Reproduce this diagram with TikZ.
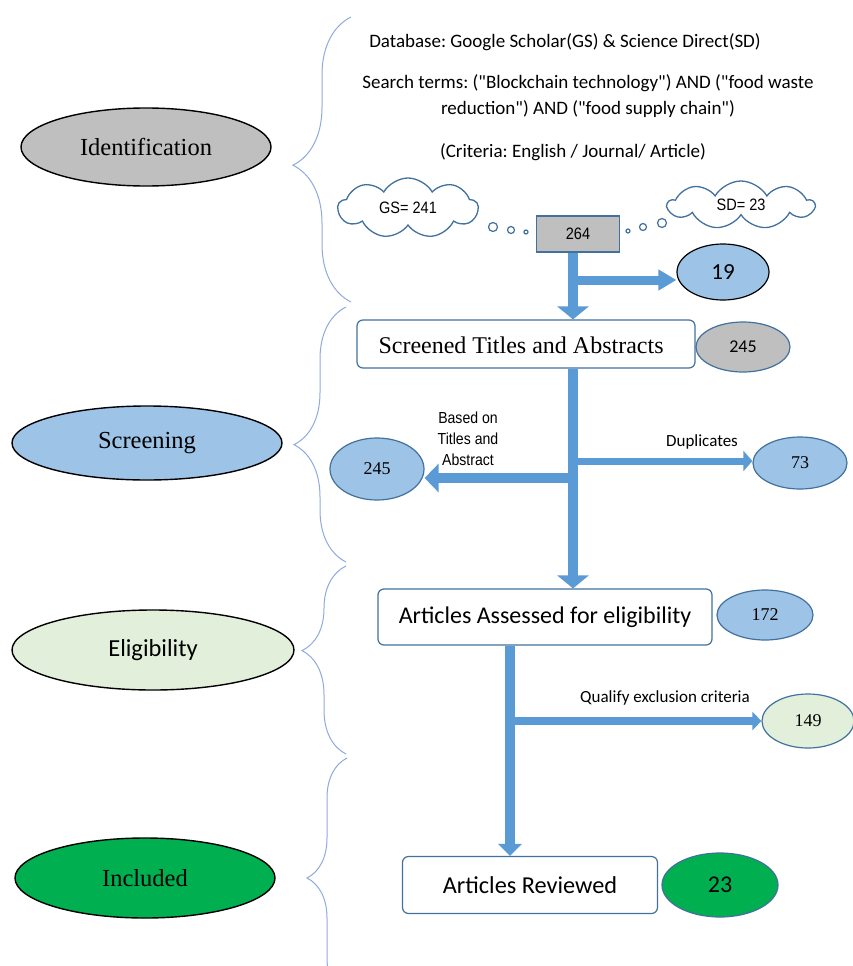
\documentclass[tikz,border=0pt]{standalone}
\usepackage{fontspec}
\setmainfont{Liberation Serif}
\newfontfamily\calibri{Carlito}
\newfontfamily\arialn[FakeStretch=0.88]{Liberation Sans}
\usetikzlibrary{shapes.geometric,shapes.symbols,arrows.meta,decorations.pathreplacing}
\definecolor{bfill}{HTML}{9DC3E6}
\definecolor{ablue}{HTML}{5B9BD5}
\definecolor{bord}{HTML}{41719C}
\definecolor{gfill}{HTML}{BFBFBF}
\definecolor{lgreen}{HTML}{E2EFDA}
\definecolor{dgreen}{HTML}{00B050}
\definecolor{brc}{HTML}{8FAADC}
\frenchspacing
\begin{document}
\begin{tikzpicture}[x=1pt,y=-1pt,
  phase/.style={ellipse, draw=black, line width=1.4pt, inner sep=0pt, font=\fontsize{24.5}{26}\selectfont},
  count/.style={ellipse, draw=bord, line width=1.2pt, inner sep=0pt},
  stepbox/.style={draw=bord, line width=1.2pt, rounded corners=6pt, fill=white, inner sep=0pt},
  cloudy/.style={cloud, cloud puffs=9, cloud puff arc=120, aspect=2.4, draw=bord, line width=1.3pt, fill=white, inner sep=0pt, font=\arialn\fontsize{16.5}{18}\selectfont},
  bubble/.style={circle, draw=bord, line width=1.2pt, fill=white, inner sep=0pt},
  phbrace/.style={draw=brc, line width=1pt, decorate},
  blk/.style={draw=ablue, line cap=butt},
  txt/.style={font=\calibri\fontsize{19}{26}\selectfont, align=center}
]
\useasboundingbox[fill=white] (0,0) rectangle (853,966);

% phase ellipses
\node[phase, fill=gfill, minimum width=250, minimum height=78] (ident) at (146,147) {Identification};
\node[phase, fill=bfill, minimum width=270, minimum height=74] (scr) at (147,443) {Screening};
\node[phase, fill=lgreen, minimum width=282, minimum height=80, font=\calibri\fontsize{24.5}{26}\selectfont] (elig) at (153,650) {Eligibility};
\node[phase, fill=dgreen, minimum width=260, minimum height=80] (incl) at (145,878) {Included};

% braces
\draw[phbrace, decoration={brace, amplitude=58pt, aspect=0.48}] (351,302) -- (351,17);
\draw[phbrace, decoration={brace, amplitude=52pt, aspect=0.46}] (346,562) -- (346,307);
\draw[phbrace, decoration={brace, amplitude=44pt, aspect=0.55}] (346,754) -- (346,566);
\draw[phbrace, decoration={brace, amplitude=40pt, aspect=0.50}] (347,998) -- (347,758);

% identification texts
\node[txt] (db) at (565,42) {Database: Google Scholar(GS) \& Science Direct(SD)};
\node[txt] (terms) at (588,96) {Search terms: ("Blockchain technology") AND ("food waste\\reduction") AND ("food supply chain")};
\node[txt] (crit) at (573,152) {(Criteria: English / Journal/ Article)};

% clouds and total
\node[cloudy, minimum width=140, minimum height=60] (gs) at (408,208) {GS= 241};
\node[cloudy, minimum width=146, minimum height=48] (sd) at (741,205) {SD= 23};
\node[draw=bord, line width=1.2pt, fill=gfill, minimum width=83, minimum height=36, inner sep=0pt, font=\arialn\fontsize{16.5}{18}\selectfont] (tot) at (578,234) {264};
\node[bubble, minimum size=9] (b1) at (493,227) {};
\node[bubble, minimum size=7] (b2) at (511,230) {};
\node[bubble, minimum size=4] (b3) at (526,232) {};
\node[bubble, minimum size=4] (b4) at (628,231) {};
\node[bubble, minimum size=7] (b5) at (643,227) {};
\node[bubble, minimum size=9] (b6) at (662,223) {};

\node[count, draw=black, fill=bfill, minimum width=92, minimum height=56, font=\calibri\fontsize{23}{24}\selectfont] (n19) at (723,272) {19};

% screening
\node[stepbox, minimum width=338, minimum height=48] (screen) at (526,344) {};
\node[font=\fontsize{24}{26}\selectfont, anchor=west] (screentxt) at (375,345) {Screened Titles and Abstracts};
\node[count, fill=gfill, minimum width=94, minimum height=50, font=\calibri\fontsize{18}{19}\selectfont] (g245) at (743,347) {245};
\node[count, fill=bfill, minimum width=94, minimum height=62, font=\fontsize{18}{19}\selectfont] (l245) at (377,469) {245};
\node[font=\arialn\fontsize{16}{21}\selectfont, align=center] (based) at (468,439) {Based on\\Titles and\\Abstract};
\node[count, fill=bfill, minimum width=94, minimum height=52, font=\fontsize{18}{19}\selectfont] (n73) at (800,463) {73};
\node[txt, font=\calibri\fontsize{17}{19}\selectfont] (dup) at (702,442) {Duplicates};

% eligibility
\node[stepbox, minimum width=334, minimum height=56, font=\calibri\fontsize{24}{26}\selectfont] (assess) at (545,617) {Articles Assessed for eligibility};
\node[count, fill=bfill, minimum width=96, minimum height=50, font=\fontsize{18}{19}\selectfont] (n172) at (765,615) {172};
\node[txt, font=\calibri\fontsize{17}{19}\selectfont] (qual) at (665,698) {Qualify exclusion criteria};
\node[count, fill=lgreen, minimum width=92, minimum height=54, font=\fontsize{18}{19}\selectfont] (n149) at (808,721) {149};

% included
\node[stepbox, minimum width=255, minimum height=57, font=\calibri\fontsize{24.3}{26}\selectfont] (rev) at (530,885) {Articles Reviewed};
\node[count, fill=dgreen, minimum width=116, minimum height=64, font=\calibri\fontsize{24}{25}\selectfont] (n23) at (720,885) {23};

% flow coordinates
\coordinate (xa) at (573,0);
\coordinate (xb) at (510,0);
\coordinate (j1) at (573,280);
\coordinate (j2) at (573,478);
\coordinate (j3) at (573,461);
\coordinate (j4) at (510,721);

% main shafts
\draw[blk, line width=10pt, -{Triangle[width=31pt,length=13pt]}] (xa |- tot.south) -- (xa |- screen.north);
\draw[blk, line width=10pt, -{Triangle[width=31pt,length=13pt]}] (xa |- screen.south) -- (xa |- assess.north);
\draw[blk, line width=10pt, -{Triangle[width=23pt,length=12pt]}] (xb |- assess.south) -- (xb |- rev.north);

% branches
\draw[blk, line width=9pt, -{Triangle[width=20pt,length=18pt]}] (j1) -- (j1 -| n19.west);
\draw[blk, line width=10pt, -{Triangle[width=28pt,length=14pt]}] (j2) -- (l245.east |- j2);
\draw[blk, line width=7pt, -{Triangle[width=20pt,length=9pt]}] (j3) -- (j3 -| n73.west);
\draw[blk, line width=8pt, -{Triangle[width=18pt,length=9pt]}] (j4) -- (j4 -| n149.west);
\end{tikzpicture}
\end{document}
